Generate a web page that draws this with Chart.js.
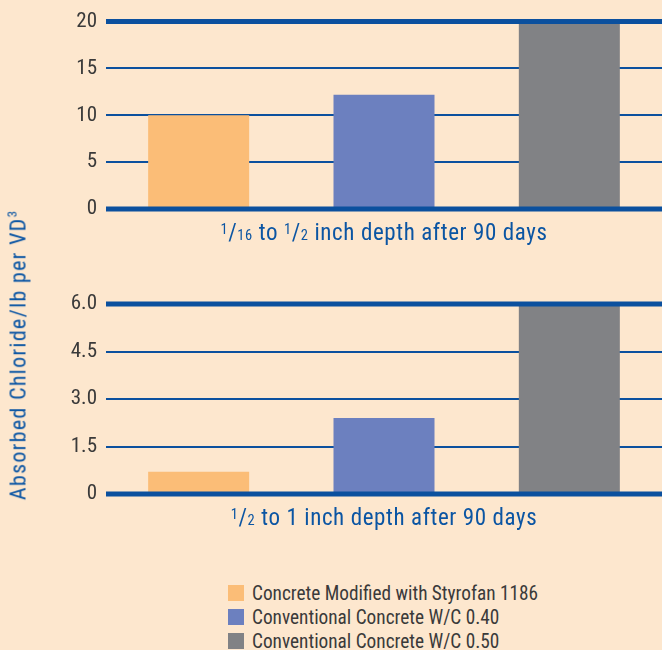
<!DOCTYPE html>
<html>
<head>
<meta charset="utf-8">
<script src="https://cdn.jsdelivr.net/npm/chart.js@4/dist/chart.umd.min.js"></script>
<style>
  html, body { margin: 0; padding: 0; background: #fde7ce; }
  #wrap { position: relative; width: 662px; height: 650px; overflow: hidden; background: #fde7ce;
          font-family: "Roboto Condensed", "Liberation Sans Narrow", sans-serif; }
  canvas { position: absolute; left: 0; }
  #c1 { top: 0; }
  #c2 { top: 280px; }
  #ytitle { position: absolute; left: 18px; top: 355px; transform: translate(-50%, -50%) rotate(-90deg);
            white-space: nowrap; color: #0b55a3; font-size: 22px; letter-spacing: 1.3px; }
  #ytitle sup { font-size: 13px; vertical-align: 9px; line-height: 0; }
  #legend { position: absolute; left: 228px; top: 581px; color: #3a3a3a; font-size: 19.3px; }
  .item { display: flex; align-items: center; height: 24px; }
  .swatch { width: 16px; height: 16px; margin-right: 8px; }
</style>
</head>
<body>
<div id="wrap">
  <canvas id="c1" width="662" height="260"></canvas>
  <canvas id="c2" width="662" height="265"></canvas>
  <div id="ytitle">Absorbed Chloride/lb per VD<sup>3</sup></div>
  <div id="legend"></div>
</div>
<script>
// Materials compared (one bar each per depth band)
const materials = [
  'Concrete Modified with Styrofan 1186',
  'Conventional Concrete W/C 0.40',
  'Conventional Concrete W/C 0.50'
];
const barColors = ['#fbbd77', '#6c80bf', '#818285'];

// Absorbed chloride, 1/16 to 1/2 inch depth
const shallowValues = [10, 12.2, 20];
const shallowTickValues = [0, 5, 10, 15, 20];
const shallowTickLabels = ['0', '5', '10', '15', '20'];

// Absorbed chloride, 1/2 to 1 inch depth
const deepValues = [0.7, 2.4, 6.0];
const deepTickValues = [0, 1.5, 3.0, 4.5, 6.0];
const deepTickLabels = ['0', '1.5', '3.0', '4.5', '6.0'];

// Depth captions as [text, style] runs: 'sup', 'sub' or normal
const shallowCaption = [['1', 'sup'], ['/', ''], ['16', 'sub'], [' to ', ''], ['1', 'sup'], ['/', ''], ['2', 'sub'], [' inch depth after 90 days', '']];
const deepCaption = [['1', 'sup'], ['/', ''], ['2', 'sub'], [' to 1 inch depth after 90 days', '']];

const FONT = '"Roboto Condensed", "Liberation Sans Narrow", sans-serif';
const LINE_BLUE = '#0b509e';
const CAPTION_BLUE = '#0b55a3';

// Heavy rules at the top and bottom of each plot, drawn over the bars
const edgeRules = {
  id: 'edgeRules',
  afterDatasetsDraw(chart) {
    const { ctx, chartArea, scales } = chart;
    const y = scales.y;
    ctx.save();
    ctx.strokeStyle = LINE_BLUE;
    ctx.lineWidth = 5;
    [y.min, y.max].forEach(v => {
      const py = y.getPixelForValue(v);
      ctx.beginPath();
      ctx.moveTo(chartArea.left, py);
      ctx.lineTo(chartArea.right, py);
      ctx.stroke();
    });
    ctx.restore();
  }
};

// Caption under the plot, with small raised/lowered fraction digits
const caption = {
  id: 'caption',
  afterDraw(chart, args, opts) {
    const { ctx, chartArea } = chart;
    const runs = opts.runs;
    const big = '23px ' + FONT, small = '14.5px ' + FONT;
    ctx.save();
    ctx.fillStyle = CAPTION_BLUE;
    ctx.textBaseline = 'alphabetic';
    if ('letterSpacing' in ctx) ctx.letterSpacing = '0.6px';
    let total = 0;
    runs.forEach(([t, s]) => { ctx.font = s ? small : big; total += ctx.measureText(t).width; });
    let x = (chartArea.left + chartArea.right) / 2 - total / 2;
    const base = chartArea.bottom + opts.offset;
    runs.forEach(([t, s]) => {
      ctx.font = s ? small : big;
      const dy = s === 'sup' ? -6 : 0;
      ctx.fillText(t, x, base + dy);
      x += ctx.measureText(t).width;
    });
    ctx.restore();
  }
};

function makeChart(id, values, tickValues, tickLabels, runs, padTop, xHeight) {
  return new Chart(document.getElementById(id), {
    type: 'bar',
    data: {
      labels: materials,
      datasets: [{
        data: values,
        backgroundColor: barColors,
        borderWidth: 0,
        barPercentage: 0.545,
        categoryPercentage: 1
      }]
    },
    options: {
      responsive: false,
      animation: false,
      layout: { padding: { top: padTop, right: 0, left: 0, bottom: 0 } },
      plugins: {
        legend: { display: false },
        tooltip: { enabled: false },
        caption: { runs: runs, offset: 31 }
      },
      scales: {
        x: {
          ticks: { display: false },
          grid: { display: false },
          border: { display: false },
          afterFit(scale) { scale.height = xHeight; }
        },
        y: {
          min: tickValues[0],
          max: tickValues[tickValues.length - 1],
          afterBuildTicks(scale) { scale.ticks = tickValues.map(v => ({ value: v })); },
          ticks: {
            callback: (v, i) => tickLabels[i],
            color: '#3a3a3a',
            font: { family: FONT, size: 21 },
            padding: 9
          },
          grid: {
            color: LINE_BLUE,
            lineWidth: 2,
            drawTicks: false
          },
          border: { display: false },
          afterFit(scale) { scale.width = 106; }
        }
      }
    },
    plugins: [edgeRules, caption]
  });
}

makeChart('c1', shallowValues, shallowTickValues, shallowTickLabels, shallowCaption, 17, 51);
makeChart('c2', deepValues, deepTickValues, deepTickLabels, deepCaption, 24, 51);

// Legend listing the three materials
const legend = document.getElementById('legend');
materials.forEach((m, i) => {
  const row = document.createElement('div');
  row.className = 'item';
  const sw = document.createElement('div');
  sw.className = 'swatch';
  sw.style.background = barColors[i];
  const label = document.createElement('span');
  label.textContent = m;
  row.appendChild(sw);
  row.appendChild(label);
  legend.appendChild(row);
});
</script>
</body>
</html>
